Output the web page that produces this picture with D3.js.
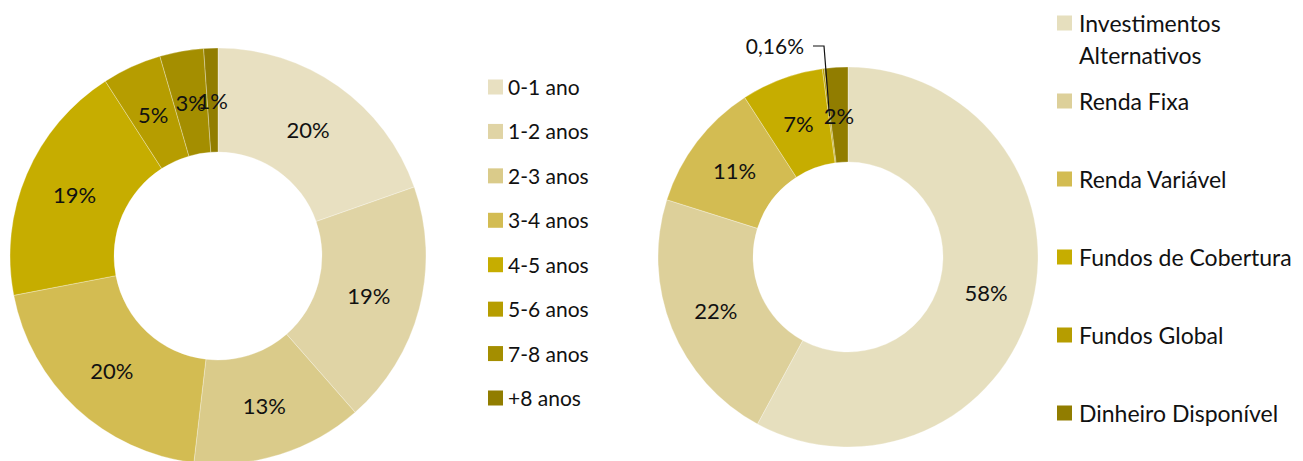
<!DOCTYPE html>
<html><head><meta charset="utf-8">
<script src="https://cdn.jsdelivr.net/npm/d3@7"></script>
<style>body{margin:0;background:#fff}svg{display:block}text{font-family:Lato,"Noto Sans",sans-serif;fill:#111}</style>
</head><body>
<script>
// Left chart: maturity buckets
const leftCategories = ["0-1 ano","1-2 anos","2-3 anos","3-4 anos","4-5 anos","5-6 anos","7-8 anos","+8 anos"];
const leftValues = [19.6, 18.9, 13.3, 20.1, 18.9, 4.6, 3.4, 1.1];
const leftLabels = ["20%","19%","13%","20%","19%","5%","3%","1%"];
const leftColors = ["#e8e0c1","#e0d4a5","#dacb8a","#d3bc52","#c6ad00","#b69d00","#a48e00","#917d00"];

// Right chart: asset classes
const rightCategories = ["Investimentos Alternativos","Renda Fixa","Renda Variável","Fundos de Cobertura","Fundos Global","Dinheiro Disponível"];
const rightLegendLines = [["Investimentos","Alternativos"],["Renda Fixa"],["Renda Variável"],["Fundos de Cobertura"],["Fundos Global"],["Dinheiro Disponível"]];
const rightValues = [58, 22, 11, 7, 0.16, 2];
const rightLabels = ["58%","22%","11%","7%","0,16%","2%"];
const rightColors = ["#e6dfbe","#ddd09a","#d3bc52","#c6ad00","#b69d00","#917d00"];

const W = 1303, H = 461;
const svg = d3.select("body").append("svg").attr("width", W).attr("height", H);

function donut(cx, cy, rOuter, rInner, values, colors, labels, skipLabel) {
  const g = svg.append("g").attr("transform", `translate(${cx},${cy})`);
  const pie = d3.pie().sort(null).value(d => d)(values);
  const arc = d3.arc().innerRadius(rInner).outerRadius(rOuter);
  g.selectAll("path").data(pie).join("path")
    .attr("d", arc).attr("fill", (d, i) => colors[i])
    .attr("stroke", "rgba(255,255,255,0.5)").attr("stroke-width", 0.6);
  g.selectAll("text.lbl").data(pie.filter((d, i) => i !== skipLabel)).join("text")
    .attr("class", "lbl")
    .attr("transform", d => `translate(${arc.centroid(d)})`)
    .attr("text-anchor", "middle").attr("dy", "0.4em")
    .style("font-size", "22px")
    .text(d => labels[d.index]);
  return {g, pie, arc};
}

const L = donut(218, 256, 208, 104, leftValues, leftColors, leftLabels, -1);
const R = donut(848, 257, 190, 95, rightValues, rightColors, rightLabels, 4);

// callout for the tiny slice
const tiny = R.pie[4];
const mid = (tiny.startAngle + tiny.endAngle) / 2;
const pr = 142;
const px = 848 + pr * Math.sin(mid), py = 257 - pr * Math.cos(mid);
svg.append("path")
  .attr("d", `M${px},${py} L824,46 L813,46`)
  .attr("fill", "none").attr("stroke", "#111").attr("stroke-width", 1.2);
svg.append("text").attr("x", 804).attr("y", 46).attr("dy", "0.38em")
  .attr("text-anchor", "end").style("font-size", "21px").text(rightLabels[4]);

// left legend
const ll = svg.append("g");
const ly = d3.scalePoint().domain(leftCategories).range([87, 398]);
leftCategories.forEach((c, i) => {
  ll.append("rect").attr("x", 488).attr("y", ly(c) - 7.5).attr("width", 15).attr("height", 15).attr("fill", leftColors[i]);
  ll.append("text").attr("x", 508).attr("y", ly(c)).attr("dy", "0.38em").style("font-size", "21px").text(c);
});

// right legend
const rl = svg.append("g");
const ry = d3.scalePoint().domain(rightCategories).range([23, 413]);
rightCategories.forEach((c, i) => {
  rl.append("rect").attr("x", 1057).attr("y", ry(c) - 7.5).attr("width", 15).attr("height", 15).attr("fill", rightColors[i]);
  const t = rl.append("text").attr("x", 1079).attr("y", ry(c)).style("font-size", "23px");
  rightLegendLines[i].forEach((line, j) => {
    t.append("tspan").attr("x", 1079).attr("dy", j === 0 ? "0.38em" : "32px").text(line);
  });
});
</script>
</body></html>
